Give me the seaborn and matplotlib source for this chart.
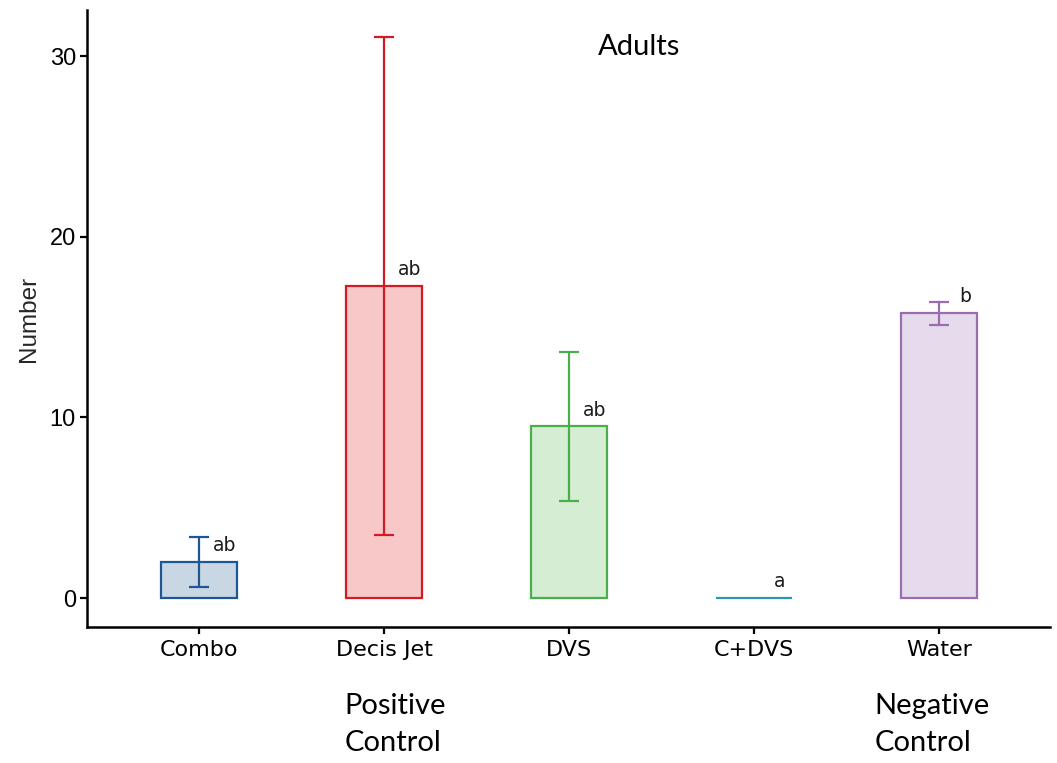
import matplotlib
matplotlib.use("Agg")
import matplotlib.pyplot as plt
import seaborn as sns
import pandas as pd

# Treatment groups and their summary statistics
treatments = ["Combo", "Decis Jet", "DVS", "C+DVS", "Water"]
mean_counts = [2.0, 17.27, 9.5, 0.0, 15.77]
std_errors = [1.4, 13.78, 4.1, 0.0, 0.63]
letters = ["ab", "ab", "ab", "a", "b"]
y_ticks = [0, 10, 20, 30]

edge_colors = ["#1f5694", "#d51b22", "#4cae4b", "#2a99b0", "#9b6caf"]
fill_colors = ["#c9d7e5", "#f8c8c9", "#d5edd3", "#c8e6ec", "#e6dbec"]

df = pd.DataFrame({"Treatment": treatments, "Number": mean_counts})

sns.set_theme(style="ticks")
plt.rcParams["font.family"] = ["DejaVu Sans"]

fig = plt.figure(figsize=(10.57, 7.63), dpi=100)
ax = fig.add_axes([0.0823, 0.1782, 0.9111, 0.8087])

sns.barplot(data=df, x="Treatment", y="Number", hue="Treatment",
            palette=fill_colors, order=treatments, hue_order=treatments,
            width=0.41, errorbar=None, legend=False, saturation=1, ax=ax)

for patch, ec in zip(ax.patches, edge_colors):
    patch.set_edgecolor(ec)
    patch.set_linewidth(1.6)

for i, (m, se, ec) in enumerate(zip(mean_counts, std_errors, edge_colors)):
    if se > 0:
        ax.errorbar(i, m, yerr=se, color=ec, elinewidth=1.6, capsize=7,
                    capthick=1.6, fmt="none", zorder=5)
    ax.text(i + 0.14, m + 0.9, letters[i], ha="center", va="center",
            fontsize=13.5, fontfamily="DejaVu Sans", color="#1a1a1a")

ax.set_xlim(-0.605, 4.6)
ax.set_ylim(-1.6, 32.55)
ax.set_yticks(y_ticks)
ax.set_yticklabels([str(t) for t in y_ticks])
ax.tick_params(axis="x", length=5, width=1.6, colors="black", pad=4)
ax.tick_params(axis="y", length=5, width=1.6, colors="black", pad=3)
plt.setp(ax.get_xticklabels(), fontfamily="DejaVu Sans", fontsize=16)
plt.setp(ax.get_yticklabels(), fontfamily="Liberation Sans", fontsize=17)
ax.set_xlabel("")
ax.set_ylabel("Number", fontfamily="Liberation Sans", fontsize=17.5, labelpad=7)

for side in ["top", "right"]:
    ax.spines[side].set_visible(False)
for side in ["left", "bottom"]:
    ax.spines[side].set_linewidth(1.8)
    ax.spines[side].set_color("black")

ax.text(2.38, 30.5, "Adults", ha="center", va="center",
        fontfamily="Lato", fontsize=21, color="black")

fig.text(0.326, 0.0505, "Positive\nControl", ha="left", va="center",
         fontfamily="Lato", fontsize=21, linespacing=1.48, color="black")
fig.text(0.827, 0.0505, "Negative\nControl", ha="left", va="center",
         fontfamily="Lato", fontsize=21, linespacing=1.48, color="black")

fig.savefig("out.png", dpi=100, facecolor="white")
